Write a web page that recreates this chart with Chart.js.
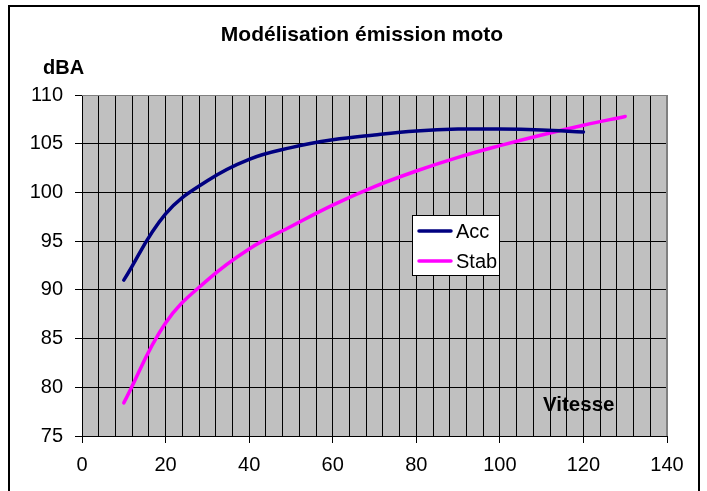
<!DOCTYPE html>
<html>
<head>
<meta charset="utf-8">
<script src="https://cdn.jsdelivr.net/npm/chart.js@4/dist/chart.umd.min.js"></script>
<style>
  html, body { margin: 0; padding: 0; background: #fff; }
  #wrap { position: relative; width: 707px; height: 491px; }
</style>
</head>
<body>
<div id="wrap"><canvas id="chart" width="707" height="491"></canvas></div>
<script>
// Emission model: noise level (dBA) against speed
const speedsAcc = [10, 20, 30, 40, 50, 60, 70, 80, 90, 100, 110, 120];
const levelsAcc = [91.0, 97.8, 101.2, 103.4, 104.6, 105.4, 105.9, 106.3, 106.5, 106.5, 106.4, 106.2];
const speedsStab = [10, 20, 30, 40, 50, 60, 70, 80, 90, 100, 110, 120, 130];
const levelsStab = [78.4, 86.6, 91.0, 94.2, 96.5, 98.7, 100.6, 102.2, 103.6, 104.8, 105.9, 106.9, 107.8];
const seriesNames = ["Acc", "Stab"];
const xTickLabels = [0, 20, 40, 60, 80, 100, 120, 140];
const yTickLabels = [75, 80, 85, 90, 95, 100, 105, 110];

const FONT = "'Liberation Sans', Arial, sans-serif";

const toPoints = (xs, ys) => xs.map((x, i) => ({ x: x, y: ys[i] }));

// gray plot background, frame, titles and the boxed legend
const decor = {
  id: "decor",
  beforeDraw(chart) {
    const { ctx, chartArea: a } = chart;
    ctx.save();
    ctx.fillStyle = "#c0c0c0";
    ctx.fillRect(a.left, a.top, a.right - a.left, a.bottom - a.top);
    ctx.restore();
  },
  afterDatasetsDraw(chart) {
    const { ctx, chartArea: a } = chart;
    ctx.save();
    // top / right edges of the plot area
    ctx.strokeStyle = "#808080";
    ctx.lineWidth = 1;
    ctx.beginPath();
    ctx.moveTo(a.left, a.top + 0.5);
    ctx.lineTo(a.right - 0.5, a.top + 0.5);
    ctx.lineTo(a.right - 0.5, a.bottom);
    ctx.stroke();

    // outer frame
    ctx.strokeStyle = "#000";
    ctx.lineWidth = 2;
    ctx.strokeRect(9, 6, 690, 500);

    ctx.fillStyle = "#000";
    ctx.textBaseline = "middle";
    ctx.font = "bold 21px " + FONT;
    ctx.textAlign = "center";
    ctx.fillText("Modélisation émission moto", 362, 35);
    ctx.font = "bold 20px " + FONT;
    ctx.textAlign = "left";
    ctx.fillText("dBA", 43, 68);
    ctx.font = "bold 20.5px " + FONT;
    ctx.fillText("Vitesse", 543, 405);

    // legend
    const lx = 412.5, ly = 215.5, lw = 87, lh = 60;
    ctx.fillStyle = "#fff";
    ctx.fillRect(lx, ly, lw, lh);
    ctx.strokeStyle = "#000";
    ctx.lineWidth = 1;
    ctx.strokeRect(lx, ly, lw, lh);
    chart.data.datasets.forEach((ds, i) => {
      const y = 231 + i * 30;
      ctx.strokeStyle = ds.borderColor;
      ctx.lineWidth = ds.borderWidth;
      ctx.lineCap = "round";
      ctx.beginPath();
      ctx.moveTo(419, y);
      ctx.lineTo(451, y);
      ctx.stroke();
      ctx.fillStyle = "#000";
      ctx.font = "20px " + FONT;
      ctx.fillText(ds.label, 456, y + 1.5);
    });
    ctx.restore();
  }
};

new Chart(document.getElementById("chart"), {
  type: "line",
  data: {
    datasets: [
      {
        label: seriesNames[0],
        data: toPoints(speedsAcc, levelsAcc),
        borderColor: "#000080",
        borderWidth: 3.5,
        borderCapStyle: "round",
        tension: 0.4,
        pointRadius: 0,
        fill: false
      },
      {
        label: seriesNames[1],
        data: toPoints(speedsStab, levelsStab),
        borderColor: "#ff00ff",
        borderWidth: 3.5,
        borderCapStyle: "round",
        tension: 0.4,
        pointRadius: 0,
        fill: false
      }
    ]
  },
  options: {
    responsive: false,
    animation: false,
    layout: { padding: { top: 95, right: 40, left: 0, bottom: 0 } },
    plugins: {
      legend: { display: false },
      title: { display: false },
      tooltip: { enabled: false }
    },
    scales: {
      x: {
        type: "linear",
        min: 0,
        max: 140,
        afterFit: (s) => { s.height = 55; },
        border: { color: "#000", width: 1 },
        grid: {
          color: (c) => (c.tick && c.tick.value === 140 ? "#808080" : "#000"),
          lineWidth: 1,
          tickLength: 7,
          tickColor: (c) => (xTickLabels.includes(c.tick.value) ? "#000" : "rgba(0,0,0,0)")
        },
        ticks: {
          stepSize: 4,
          autoSkip: false,
          maxRotation: 0,
          padding: 10,
          color: "#000",
          font: { family: FONT, size: 20 },
          callback: (v) => (xTickLabels.includes(v) ? String(v) : "")
        }
      },
      y: {
        min: yTickLabels[0],
        max: yTickLabels[yTickLabels.length - 1],
        afterFit: (s) => { s.width = 82; },
        border: { color: "#000", width: 1 },
        grid: {
          color: (c) => (c.tick && c.tick.value === 110 ? "#808080" : "#000"),
          lineWidth: 1,
          tickLength: 7,
          tickColor: "#000"
        },
        ticks: {
          stepSize: 5,
          padding: 12,
          color: "#000",
          font: { family: FONT, size: 20 }
        }
      }
    }
  },
  plugins: [decor]
});
</script>
</body>
</html>
